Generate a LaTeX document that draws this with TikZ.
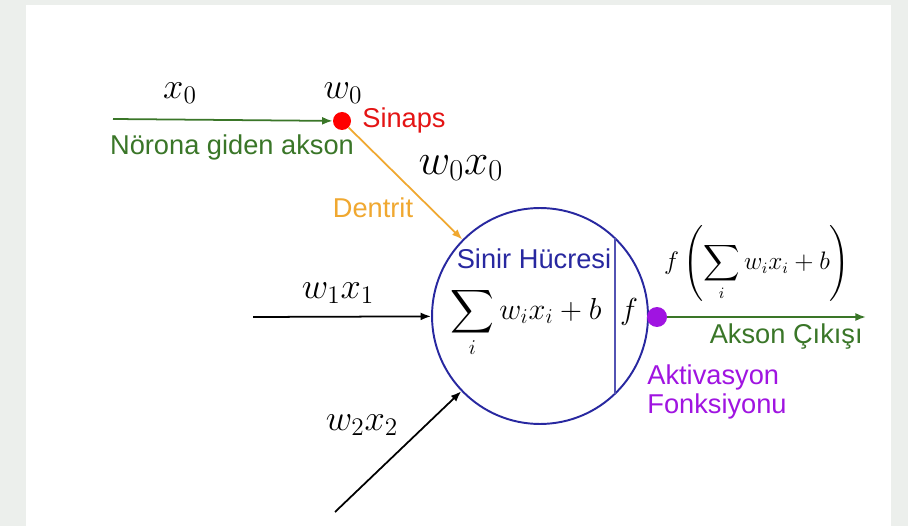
\documentclass[tikz,border=0pt]{standalone}
\usepackage[no-math]{fontspec}
\usepackage{amsmath}
\newfontfamily\labelfont{Liberation Sans}
\usetikzlibrary{arrows.meta}
\definecolor{axongreen}{RGB}{58,118,40}
\definecolor{synred}{RGB}{228,20,20}
\definecolor{dendorange}{RGB}{240,168,48}
\definecolor{cellblue}{RGB}{40,40,160}
\definecolor{actpurple}{RGB}{160,20,225}
\definecolor{pagegray}{RGB}{236,239,236}
\begin{document}
\begin{tikzpicture}[x=0.02cm, y=-0.02cm,
    conn/.style={line width=1pt, -{Latex[length=6pt,width=4.5pt]}},
    lbl/.style={font=\labelfont\fontsize{15.5}{16}\selectfont, inner sep=0pt},
    mathlbl/.style={font=\fontsize{20.74}{24}\selectfont, inner sep=0pt},
    dot/.style={circle, inner sep=0pt, minimum size=#1}]
    % Page and white panel
    \useasboundingbox (0,0) rectangle (908,526);
    \fill[pagegray] (0,0) rectangle (908,526);
    \fill[white] (26,5) rectangle (891,526);
    % Synapse on the incoming axon
    \coordinate (axin) at (113,119);
    \node[dot=0.36cm, fill=red] (syn) at (342,121) {};
    \draw[conn, axongreen] (axin) -- (syn);
    \node[mathlbl] (x0) at (180,93) {$x_0$};
    \node[mathlbl] (w0) at (343,93) {$w_0$};
    \node[lbl, text=synred, anchor=west] (synlbl) at (362,120) {Sinaps};
    \node[lbl, text=axongreen] (axlbl) at (232,147) {Nörona giden akson};
    % Cell body
    \node[circle, draw=cellblue, line width=1.1pt, minimum size=4.32cm, inner sep=0pt] (cell) at (540,316) {};
    \draw[cellblue!80!white, line width=1pt] (615,238.3) -- (615,393.7);
    \node[lbl, text=cellblue] (celllbl) at (534,259) {Sinir Hücresi};
    \node[font=\fontsize{18}{22}\selectfont, inner sep=0pt, anchor=base] (sumlbl) at (526,319) {$\displaystyle\sum_i w_ix_i+b$};
    \node[font=\fontsize{18}{22}\selectfont, inner sep=0pt, anchor=base] (flbl) at (629,319) {$f$};
    % Dendrites
    \draw[conn, dendorange] (syn) -- (cell);
    \node[mathlbl, font=\fontsize{24}{28}\selectfont] (w0x0) at (461,168) {$w_0x_0$};
    \node[lbl, text=dendorange] (dendlbl) at (373,208) {Dentrit};
    \coordinate (in1) at (253,317);
    \draw[conn] (in1) -- (cell);
    \node[mathlbl] (w1x1) at (338,293) {$w_1x_1$};
    \coordinate (in2) at (335,512);
    \draw[conn] (in2) -- (cell);
    \node[mathlbl] (w2x2) at (362,425) {$w_2x_2$};
    % Activation and output axon
    \node[dot=0.4cm, fill=actpurple] (act) at (657,317) {};
    \coordinate (axout) at (866,317);
    \draw[conn, axongreen] (act) -- (axout);
    \node[font=\fontsize{13.5}{16}\selectfont, inner sep=0pt] (outlbl) at (757,263) {$\displaystyle f\left(\sum_i w_ix_i+b\right)$};
    \node[lbl, text=axongreen, anchor=east] (axoutlbl) at (863,337) {Akson Çıkışı};
    \node[lbl, text=actpurple, anchor=west, align=left] (actlbl) at (647,392) {Aktivasyon\\Fonksiyonu};
\end{tikzpicture}
\end{document}
